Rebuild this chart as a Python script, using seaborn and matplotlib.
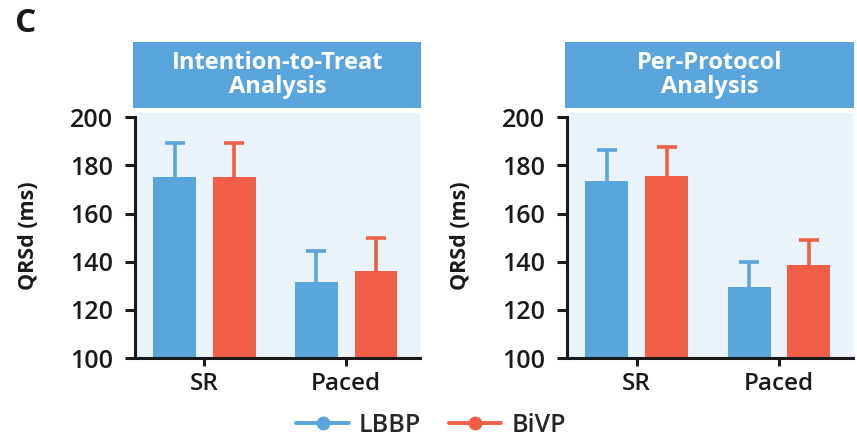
import numpy as np
import pandas as pd
import matplotlib
matplotlib.use("Agg")
import matplotlib.pyplot as plt
from matplotlib.lines import Line2D
from matplotlib.patches import Rectangle
import seaborn as sns

# ---- data ----
categories = ["SR", "Paced"]
groups = ["LBBP", "BiVP"]
panel_titles = ["Intention-to-Treat\nAnalysis", "Per-Protocol\nAnalysis"]

itt_lbbp = [175.0, 131.7]
itt_bivp = [175.0, 136.3]
itt_lbbp_err = [14.3, 12.7]
itt_bivp_err = [14.3, 13.5]

pp_lbbp = [173.4, 129.3]
pp_bivp = [175.6, 138.6]
pp_lbbp_err = [13.2, 10.4]
pp_bivp_err = [12.0, 10.5]

yticks = [100, 120, 140, 160, 180, 200]
ylabel = "QRSd (ms)"
panel_label = "C"

# ---- style ----
sns.set_theme(style="white")
plt.rcParams["font.family"] = ["Open Sans", "DejaVu Sans"]

BLUE = "#5AA5DC"
RED = "#F05E48"
PANEL_BG = "#EAF2FA"
INK = "#1a1a1a"
palette = {"LBBP": BLUE, "BiVP": RED}

fig = plt.figure(figsize=(8.57, 4.38), dpi=100)
axes_rects = [
    [135 / 857, 1 - 358 / 438, 285 / 857, (358 - 113.4) / 438],
    [567 / 857, 1 - 358 / 438, 286 / 857, (358 - 113.4) / 438],
]

panels = [
    (itt_lbbp, itt_bivp, itt_lbbp_err, itt_bivp_err),
    (pp_lbbp, pp_bivp, pp_lbbp_err, pp_bivp_err),
]

for rect, title, (lb, bv, lbe, bve) in zip(axes_rects, panel_titles, panels):
    ax = fig.add_axes(rect)
    df = pd.DataFrame({
        "cat": categories * 2,
        "group": [groups[0]] * 2 + [groups[1]] * 2,
        "value": list(lb) + list(bv),
    })
    sns.barplot(data=df, x="cat", y="value", hue="group", order=categories,
                hue_order=groups, palette=palette, width=0.84, gap=0.28,
                errorbar=None, legend=False, ax=ax, linewidth=0, saturation=1)
    errs = [lbe, bve]
    for cont, g, err in zip(ax.containers, groups, errs):
        xs = [b.get_x() + b.get_width() / 2 for b in cont]
        ys = [b.get_height() for b in cont]
        ax.errorbar(xs, ys, yerr=err, fmt="none", ecolor=palette[g],
                    elinewidth=2.6, capsize=7, capthick=2.6, zorder=0.9)
    ax.set_facecolor(PANEL_BG)
    ax.set_ylim(100, 201.6)
    ax.set_xlim(-0.49, 1.52)
    ax.set_yticks(yticks)
    ax.set_yticklabels([str(t) for t in yticks], fontsize=18, color=INK,
                       fontweight="semibold")
    ax.set_xticks([0, 1])
    ax.set_xticklabels(categories, fontsize=17.5, color=INK, fontweight="semibold")
    ax.set_xlabel("")
    ax.set_ylabel(ylabel, fontsize=15.5, fontweight="bold", color=INK, labelpad=22)
    for s in ["top", "right"]:
        ax.spines[s].set_visible(False)
    for s in ["left", "bottom"]:
        ax.spines[s].set_linewidth(2.2)
        ax.spines[s].set_color(INK)
    ax.spines["left"].set_bounds(100, 200)
    ax.tick_params(axis="y", direction="out", length=7, width=2.2, color=INK,
                   left=True, pad=9)
    ax.tick_params(axis="x", direction="out", length=6, width=2.2, color=INK,
                   bottom=True, pad=4)
    # title box
    ax.add_patch(Rectangle((-0.007, 1.022), 1.011, 0.27, transform=ax.transAxes,
                           facecolor=BLUE, edgecolor="none", clip_on=False))
    ax.text(0.5, 1.157, title, transform=ax.transAxes, ha="center", va="center",
            color="white", fontsize=17, fontweight="bold", linespacing=1.0)

fig.text(15 / 857, 1 - 23 / 438, panel_label, fontsize=24, fontweight="bold",
         va="center", ha="left", color=INK)

handles = [Line2D([0], [0], color=palette[g], lw=2.8, marker="o", markersize=9)
           for g in groups]
fig.legend(handles, groups, loc="center", bbox_to_anchor=(0.503, 1 - 425 / 438),
           ncol=2, frameon=False, handlelength=2.1,
           columnspacing=1.1, handletextpad=0.4,
           prop={"weight": "semibold", "size": 18})

fig.savefig("out.png", dpi=100)
